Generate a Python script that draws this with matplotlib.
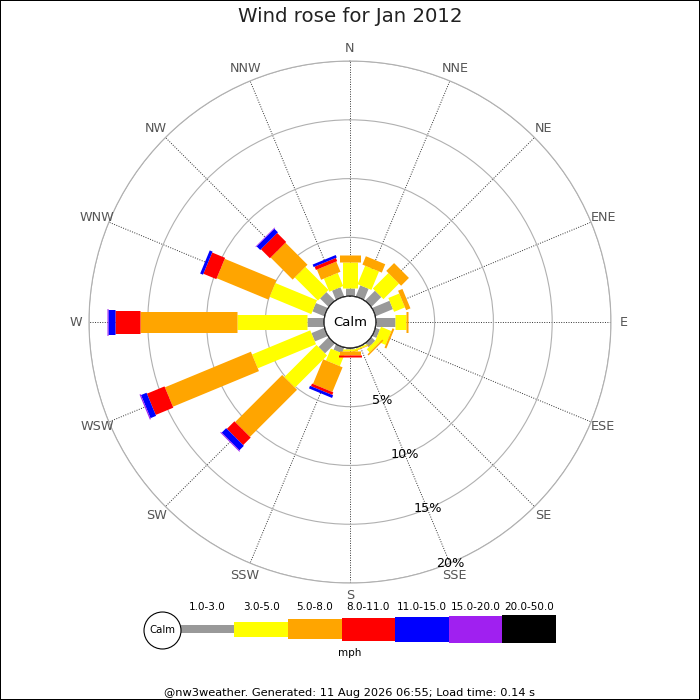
import numpy as np
import matplotlib
matplotlib.use("Agg")
import matplotlib.pyplot as plt
from matplotlib.patches import Circle, Rectangle

# wind rose data, % of time per direction and speed class
directions = ["N", "NNE", "NE", "ENE", "E", "ESE", "SE", "SSE",
              "S", "SSW", "SW", "WSW", "W", "WNW", "NW", "NNW"]
speed_classes = ["1.0-3.0", "3.0-5.0", "5.0-8.0", "8.0-11.0",
                 "11.0-15.0", "15.0-20.0", "20.0-50.0"]
pct_1_3 = [0.70, 1.02, 1.19, 1.60, 1.60, 0.40, 0.45, 0.10,
           0.10, 0.51, 1.19, 1.19, 1.45, 1.10, 1.02, 0.85]
pct_3_5 = [2.17, 1.70, 1.87, 1.00, 1.00, 0.95, 0.35, 0.12,
           0.13, 1.09, 3.87, 5.36, 5.95, 3.84, 2.78, 1.21]
pct_5_8 = [0.62, 0.77, 0.94, 0.40, 0.12, 0.17, 0.13, 0.05,
           0.40, 2.27, 5.66, 7.92, 8.26, 4.76, 2.65, 0.94]
pct_8_11 = [0, 0, 0, 0, 0, 0, 0, 0,
            0.14, 0.24, 0.91, 1.62, 2.13, 1.19, 1.08, 0.30]
pct_11_15 = [0, 0, 0, 0, 0, 0, 0, 0,
             0, 0.24, 0.54, 0.51, 0.60, 0.26, 0.43, 0.23]
pct_15_20 = [0, 0, 0, 0, 0, 0, 0, 0,
             0, 0, 0.08, 0.10, 0.08, 0, 0.06, 0]
pct_20_50 = [0] * 16
ring_pcts = [5, 10, 15, 20]

# styles
colors = ["#999999", "#ffff00", "#ffa500", "#ff0000", "#0000ff", "#a020f0", "#000000"]
bar_px = [9, 15, 21, 23, 25, 27, 29]       # bar thickness in pixels
legend_px = [8, 15, 20, 23, 25, 27, 28]
DPI = 100
calm_off = 2.2                              # radius of calm circle in % units

fig = plt.figure(figsize=(7, 7), dpi=DPI)
fig.patch.set_facecolor("white")

ax = fig.add_axes([0.1271, 0.1671, 0.7457, 0.7457], projection="polar")
ax.set_theta_zero_location("N")
ax.set_theta_direction(-1)
ax.set_rorigin(-calm_off)
ax.set_rlim(0, 20)

theta = np.deg2rad(np.arange(16) * 22.5)
ax.set_xticks(theta)
ax.set_xticklabels([])
ax.set_yticks(ring_pcts)
ax.set_yticklabels([])
ax.tick_params(length=0)
ax.xaxis.grid(True, linestyle=(0, (1, 1.5)), color="#333333", linewidth=0.7)
ax.yaxis.grid(True, linestyle="-", color="#b0b0b0", linewidth=0.8)
ax.spines["polar"].set_color("#b0b0b0")
ax.spines["polar"].set_linewidth(0.8)
ax.spines["inner"].set_visible(False)

series = [pct_1_3, pct_3_5, pct_5_8, pct_8_11, pct_11_15, pct_15_20, pct_20_50]
base = np.zeros(16)
for vals, c, px in zip(series, colors, bar_px):
    vals = np.array(vals, dtype=float)
    top = base + vals
    m = vals > 0
    if m.any():
        ax.vlines(theta[m], base[m], top[m], colors=c,
                  linewidth=px * 72 / DPI, capstyle="butt", zorder=3)
    base = top

# calm circle
ax.add_patch(Circle((0.5, 0.5), 26 / 522, transform=ax.transAxes,
                    facecolor="white", edgecolor="black", linewidth=0.8, zorder=6))
ax.text(0.5, 0.5, "Calm", transform=ax.transAxes, ha="center", va="center",
        fontsize=9.5, zorder=7)

# compass labels
for t, name in zip(theta, directions):
    ax.text(t, 21.1, name, ha="center", va="center", fontsize=9.2,
            color="#555555", clip_on=False)

# percentage labels along SSE
for r in ring_pcts:
    ax.text(np.deg2rad(157.5), r, f"{r}%", ha="center", va="center",
            fontsize=9.2, color="black", zorder=8)

fig.text(0.5, 1 - 17 / 700, "Wind rose for Jan 2012", ha="center", va="center",
         fontsize=14.2, color="#222222")

# legend
lax = fig.add_axes([140 / 700, 1 - 660 / 700, 420 / 700, 60 / 700])
lax.set_xlim((140 - 180.7) / 53.6, (560 - 180.7) / 53.6)
lax.set_ylim(-31, 29)
lax.axis("off")
xs = np.arange(len(speed_classes))
lax.bar(xs, legend_px, bottom=[-h / 2 for h in legend_px], width=1.0,
        align="edge", color=colors, linewidth=0)
for x, lab in zip(xs, speed_classes):
    lax.text(x + 0.5, 22, lab, ha="center", va="center", fontsize=7.5)
lax.scatter([-0.343], [-1], s=709, facecolor="white", edgecolor="black",
            linewidth=0.8, zorder=4)
lax.text(-0.343, -1, "Calm", ha="center", va="center", fontsize=7.3, zorder=5)
fig.text(0.5, 1 - 653 / 700, "mph", ha="center", va="center", fontsize=7.5)

fig.text(0.5, 1 - 693 / 700,
         "@nw3weather. Generated: 11 Aug 2026 06:55; Load time: 0.14 s",
         ha="center", va="center", fontsize=8.2)

fig.add_artist(Rectangle((0, 0), 1, 1, transform=fig.transFigure, fill=False,
                         edgecolor="black", linewidth=1.44))

fig.savefig("out.png", dpi=DPI)
